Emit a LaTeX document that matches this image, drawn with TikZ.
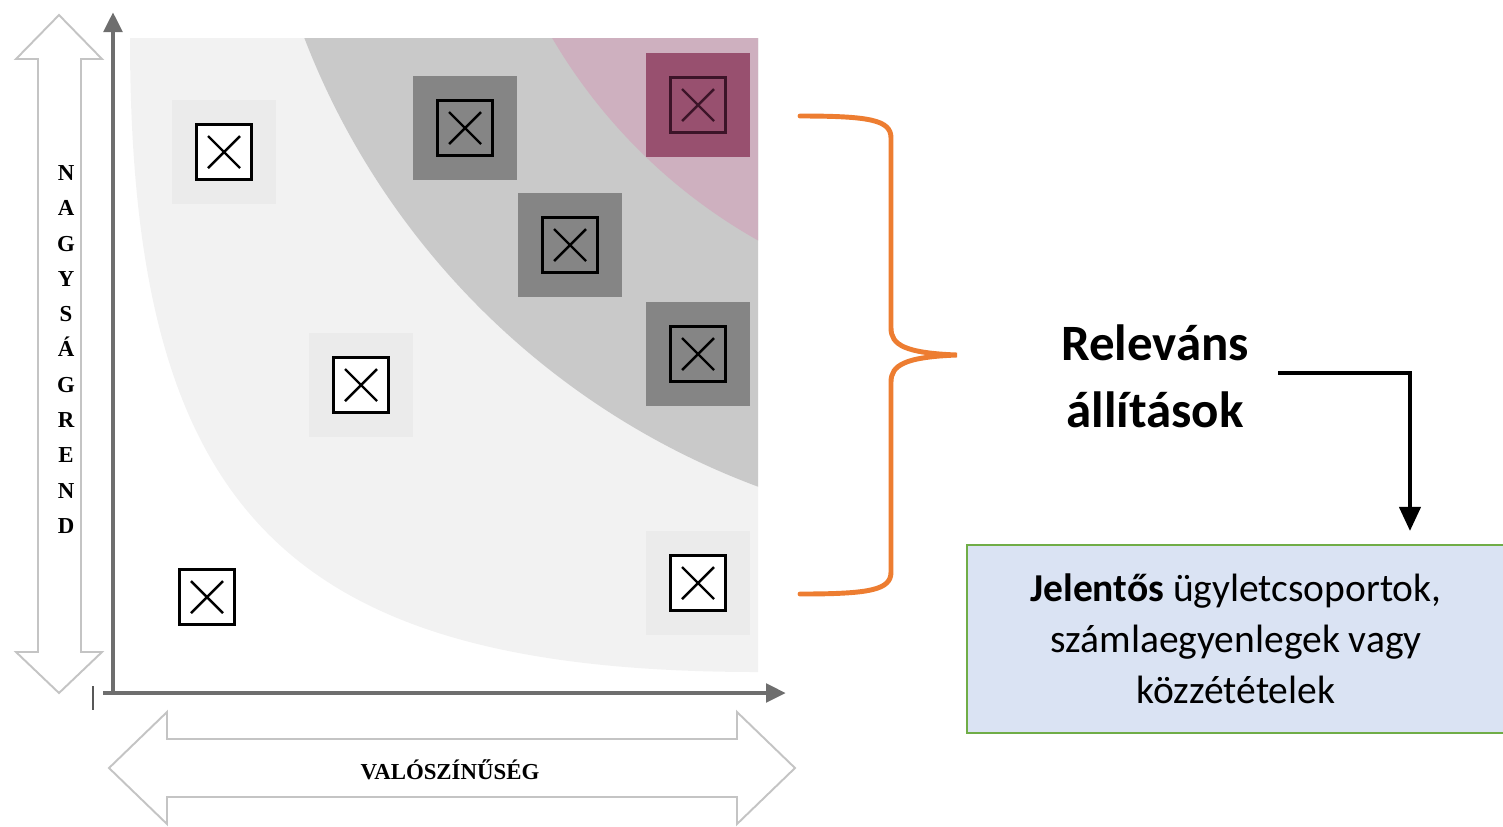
\documentclass[tikz,border=0pt]{standalone}
\usepackage{fontspec}
\setmainfont{Carlito}
\newfontfamily\timesfont{Liberation Serif}
\usetikzlibrary{arrows.meta, positioning}
\definecolor{zonelight}{HTML}{F2F2F2}
\definecolor{zonemid}{HTML}{C9C9C9}
\definecolor{zonepink}{HTML}{CEB0BF}
\definecolor{celllight}{HTML}{EBEBEB}
\definecolor{celldark}{HTML}{858585}
\definecolor{cellpink}{HTML}{98506F}
\definecolor{pinkframe}{HTML}{3C1428}
\definecolor{axisgray}{HTML}{6E6E6E}
\definecolor{hollowgray}{HTML}{C4C4C4}
\definecolor{braceorange}{HTML}{ED7D31}
\definecolor{boxblue}{HTML}{DAE3F3}
\definecolor{boxgreen}{HTML}{70AD47}

\begin{document}
\begin{tikzpicture}[
    x=0.02cm, y=-0.02cm,
    >=Stealth,
    cell/.style={rectangle, minimum size=2.08cm, inner sep=0pt},
    lightcell/.style={cell, fill=celllight},
    darkcell/.style={cell, fill=celldark},
    pinkcell/.style={cell, fill=cellpink},
    xbox/.style={rectangle, draw, line width=1.7pt, minimum size=1.1cm, inner sep=0pt,
      path picture={
        \draw[line width=1.4pt]
          ([shift={(-0.32cm,-0.32cm)}]path picture bounding box.center) -- ([shift={(0.32cm,0.32cm)}]path picture bounding box.center)
          ([shift={(-0.32cm,0.32cm)}]path picture bounding box.center) -- ([shift={(0.32cm,-0.32cm)}]path picture bounding box.center);
      }},
    axis/.style={draw=axisgray, line width=2.8pt, -{Triangle[length=0.4cm, width=0.36cm]}},
    hollow/.style={draw=hollowgray, line width=1.1pt, fill=white, line join=miter},
    axislabel/.style={font=\timesfont\bfseries\fontsize{13}{20.1}\selectfont, align=center, inner sep=0pt},
    brace/.style={draw=braceorange, line width=2.8pt, line cap=round},
    greenbox/.style={rectangle, draw=boxgreen, line width=1.2pt, fill=boxblue, align=center,
      minimum width=10.76cm, minimum height=3.76cm, font=\fontsize{22.5}{29}\selectfont}
  ]

  \useasboundingbox (0,0) rectangle (1503,826);

  % risk zones
  \begin{scope}
    \clip (130,38) rectangle (758,672);
    \fill[zonelight] (758,672) .. controls (287,672) and (130,513) .. (130,38) -- (758,38) -- cycle;
    \fill[zonemid] (1028,-240) circle (775);
    \fill[zonepink] (1028,-240) circle (551);
  \end{scope}

  % cells
  \node[lightcell] (c1) at (224,152) {};
  \node[darkcell] (c2) at (465,128) {};
  \node[darkcell] (c3) at (570,245) {};
  \node[pinkcell] (c4) at (698,105) {};
  \node[darkcell] (c5) at (698,354) {};
  \node[lightcell] (c6) at (361,385) {};
  \node[cell] (c7) at (207,597) {};
  \node[lightcell] (c8) at (698,583) {};

  \foreach \c in {c1,c6,c7,c8}
    \node[xbox, fill=white] at (\c) {};
  \foreach \c in {c2,c3,c5}
    \node[xbox] at (\c) {};
  \node[xbox, draw=pinkframe] at (c4) {};

  % axes
  \coordinate (origin) at (113,693);
  \coordinate (ytop) at (113,12);
  \coordinate (xend) at (786,693);
  \draw[axis] (origin) -- (ytop);
  \draw[axis] ([xshift=-0.2cm]origin) -- (xend);
  \draw[line width=1.2pt, axisgray!80!black] (93,686) -- (93,710);

  % hollow double arrows
  \draw[hollow] (59,15) -- (102,59) -- (81,59) -- (81,652) -- (102,652) -- (59,693)
    -- (16,652) -- (38,652) -- (38,59) -- (16,59) -- cycle;
  \draw[hollow] (109,768) -- (167,712) -- (167,739) -- (737,739) -- (737,712) -- (795,768)
    -- (737,824) -- (737,797) -- (167,797) -- (167,824) -- cycle;

  \node[axislabel] (ylab) at (66,349.5) {N\\A\\G\\Y\\S\\Á\\G\\R\\E\\N\\D};
  \node[axislabel, anchor=base] (xlab) at (450,779) {VALÓSZÍNŰSÉG};

  % brace
  \draw[brace] (800,116) .. controls (870,116) and (891,120) .. (891,138) -- (891,328)
    .. controls (891,345) and (905,353) .. (957,355)
    .. controls (905,357) and (891,365) .. (891,382) -- (891,572)
    .. controls (891,590) and (870,594) .. (800,594);

  \node[font=\bfseries\fontsize{29}{38}\selectfont, align=center] (rel) at (1155,376) {Releváns\\állítások};

  \node[greenbox] (box) at (1236,639) {\textbf{Jelentős} ügyletcsoportok,\\számlaegyenlegek vagy\\közzétételek};

  \coordinate (relout) at (1278,373);
  \draw[line width=2.3pt, -{Triangle[length=0.48cm, width=0.42cm]}, shorten >=0.26cm]
    (relout) -| ([xshift=3.48cm]box.north);

\end{tikzpicture}
\end{document}
